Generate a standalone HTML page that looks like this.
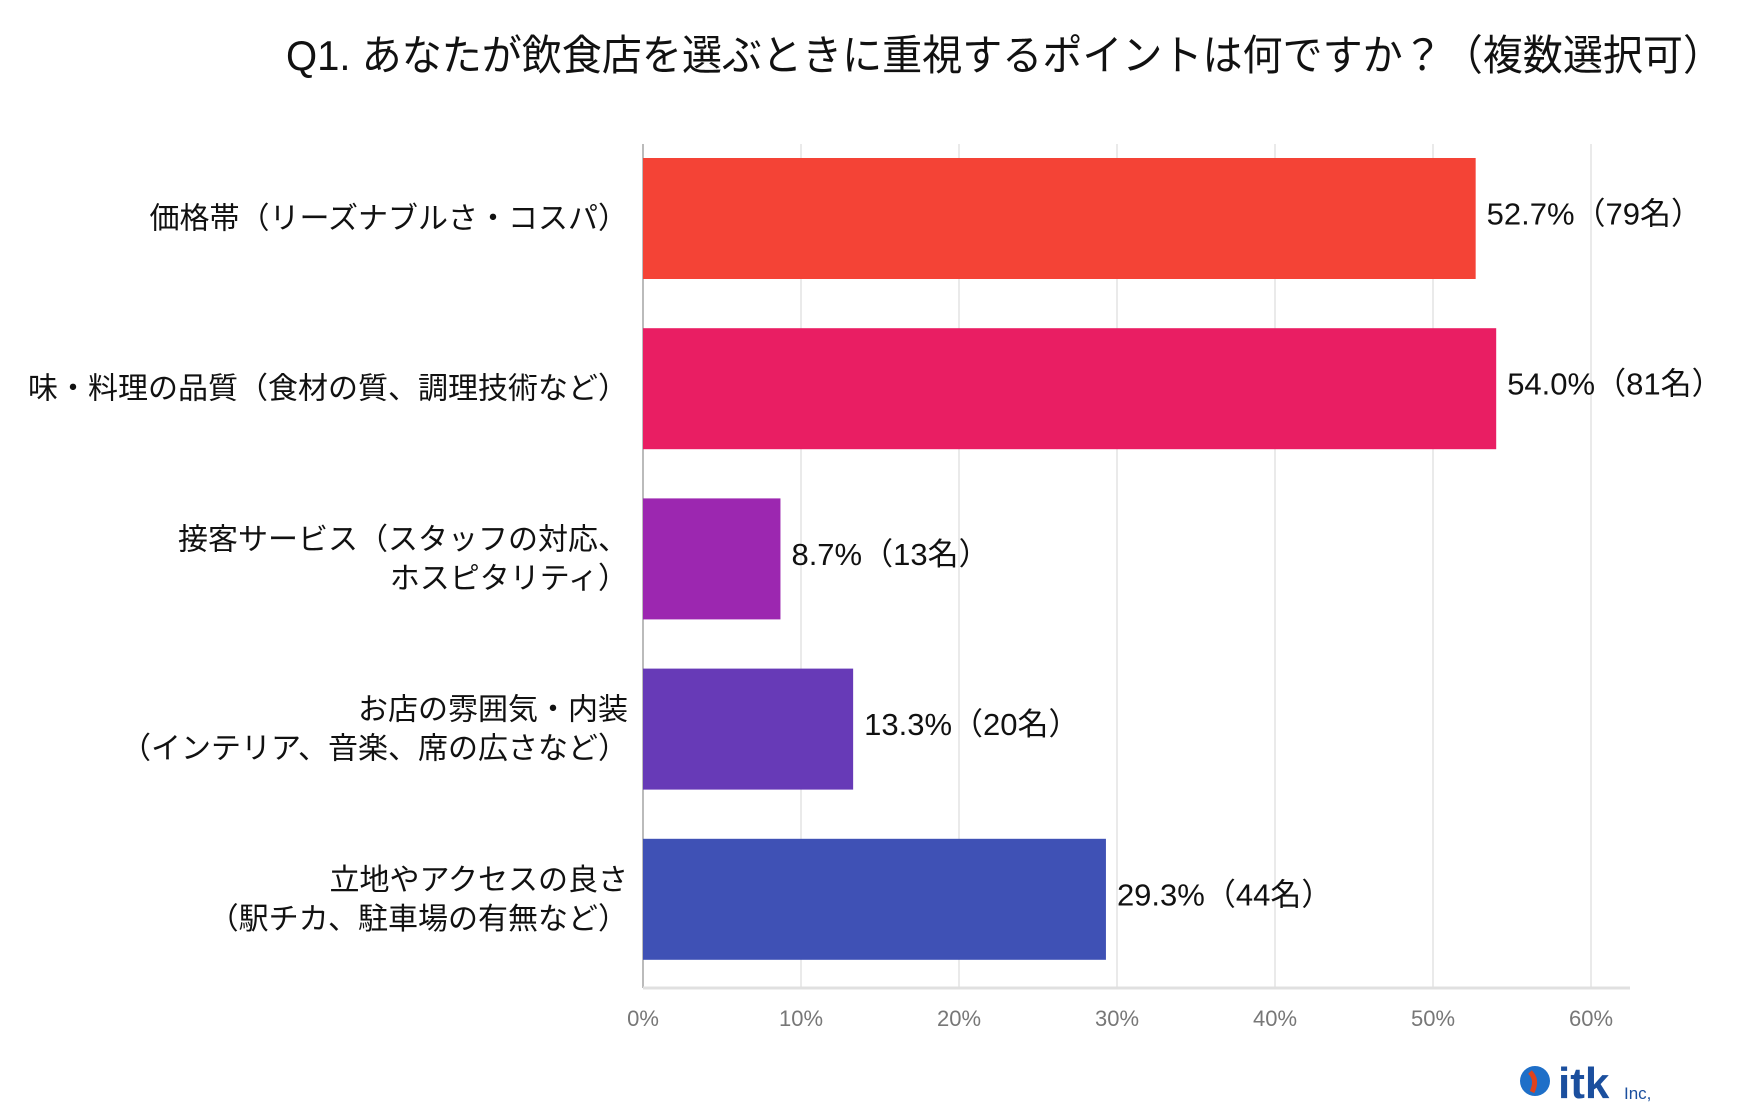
<!DOCTYPE html>
<html><head><meta charset="utf-8"><style>
html,body{margin:0;padding:0;background:#fff;}
svg{display:block;font-family:"Liberation Sans","Noto Sans CJK JP",sans-serif;}
</style></head><body>
<svg id="chart" width="1751" height="1111" viewBox="0 0 1751 1111" xmlns="http://www.w3.org/2000/svg">
<text x="286" y="70" font-size="42" fill="#111" textLength="1437" lengthAdjust="spacingAndGlyphs">Q1. あなたが飲食店を選ぶときに重視するポイントは何ですか？（複数選択可）</text>
<g id="grid"></g>
<g id="bars"></g>
<g id="labels"></g>
<g id="xticks"></g>
<g>
<circle cx="1535" cy="1081" r="15" fill="#1e6fc8"/>
<path d="M1530 1072 q8 8 2 20" stroke="#e0421b" stroke-width="5" fill="none"/>
<text x="1558" y="1098" font-size="44" font-weight="bold" fill="#1b4f9e">itk</text>
<text x="1624" y="1099" font-size="17" fill="#1b4f9e">Inc,</text>
</g>
</svg>
<script>
const categories = [["価格帯（リーズナブルさ・コスパ）"],["味・料理の品質（食材の質、調理技術など）"],["接客サービス（スタッフの対応、","ホスピタリティ）"],["お店の雰囲気・内装","（インテリア、音楽、席の広さなど）"],["立地やアクセスの良さ","（駅チカ、駐車場の有無など）"]];
const values = [52.7, 54.0, 8.7, 13.3, 29.3];
const counts = [79, 81, 13, 20, 44];
const tickValues = [0,10,20,30,40,50,60];
const tickLabels = ["0%","10%","20%","30%","40%","50%","60%"];
const colors = ["#f44336","#e91e63","#9c27b0","#673ab7","#3f51b5"];
const NS="http://www.w3.org/2000/svg";
const x0=643, pxPer=158.0/10, yTop=144, yBottom=988, band=170.2, barH=121, firstTop=158;
const xs=v=>x0+v*pxPer;
const yb=i=>firstTop+i*band;
function mk(tag,attrs,parent){const e=document.createElementNS(NS,tag);for(const k in attrs)e.setAttribute(k,attrs[k]);parent.appendChild(e);return e;}
const grid=document.getElementById('grid'),bars=document.getElementById('bars'),labels=document.getElementById('labels'),xt=document.getElementById('xticks');
tickValues.forEach((t,i)=>{
  const l=mk('line',{x1:xs(t),x2:xs(t),y1:yTop,y2:yBottom,stroke:i===0?'#bbb':'#e4e4e4','stroke-width':i===0?2:1.5},grid);
  
  
  const tx=mk('text',{x:xs(t),y:1026,'font-size':22,fill:'#777','text-anchor':'middle'},xt);
  tx.textContent=tickLabels[i];
  
  
});
const base=mk('line',{x1:x0,x2:1630,y1:yBottom,y2:yBottom,stroke:'#e0e0e0','stroke-width':3},grid);


values.forEach((v,i)=>{
  const y=yb(i);
  const r=mk('rect',{x:x0,y:y,width:xs(v)-x0,height:barH,fill:colors[i]},bars);
  
  
  const vt=mk('text',{x:xs(v)+11,y:y+barH/2+6,'font-size':31,fill:'#111'},bars);
  vt.textContent=v.toFixed(1)+'%（'+counts[i]+'名）';
  
  
  const lines=categories[i];
  lines.forEach((s,j)=>{
    const cy=y+barH/2+(j-(lines.length-1)/2)*39+10;
    const t=mk('text',{x:628,y:cy,'font-size':30,fill:'#111','text-anchor':'end'},labels);
    t.textContent=s;
    
    
  });
});
</script>
</body></html>
